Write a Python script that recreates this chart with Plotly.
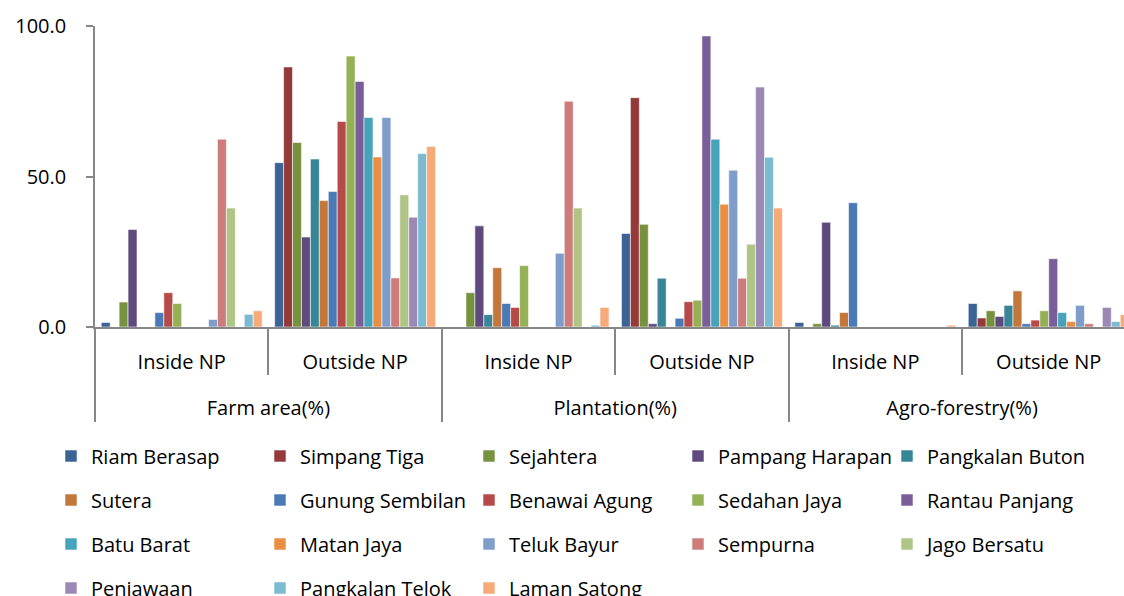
import plotly.graph_objects as go

# Land-use categories (outer level) and location relative to the national park (inner level)
land_use = ["Farm area(%)", "Farm area(%)", "Plantation(%)", "Plantation(%)",
            "Agro-forestry(%)", "Agro-forestry(%)"]
location = ["Inside NP", "Outside NP", "Inside NP", "Outside NP", "Inside NP", "Outside NP"]

villages = ["Riam Berasap", "Simpang Tiga", "Sejahtera", "Pampang Harapan", "Pangkalan Buton",
            "Sutera", "Gunung Sembilan", "Benawai Agung", "Sedahan Jaya", "Rantau Panjang",
            "Batu Barat", "Matan Jaya", "Teluk Bayur", "Sempurna", "Jago Bersatu",
            "Penjawaan", "Pangkalan Telok", "Laman Satong"]

# Percentage per village, one list per land-use / location column
farm_inside = [1.5, 0, 8.3, 32.4, 0, 0, 4.8, 11.4, 7.8, 0, 0, 0, 2.5, 62.4, 39.5, 0, 4.2, 5.4]
farm_outside = [54.6, 86.4, 61.3, 29.9, 55.8, 42.0, 45.0, 68.3, 90.0, 81.6, 69.6, 56.5, 69.6,
                16.3, 43.9, 36.5, 57.6, 60.0]
plant_inside = [0, 0, 11.4, 33.6, 4.1, 19.7, 7.8, 6.5, 20.4, 0, 0, 0, 24.5, 75.0, 39.5, 0, 0.6, 6.5]
plant_outside = [31.1, 76.2, 34.1, 1.1, 16.2, 0, 2.9, 8.4, 8.9, 96.7, 62.4, 40.8, 52.1, 16.2,
                 27.5, 79.7, 56.4, 39.5]
agro_inside = [1.5, 0, 1.1, 34.8, 0.6, 4.8, 41.3, 0, 0, 0, 0, 0, 0, 0, 0, 0, 0, 0.6]
agro_outside = [7.8, 3.0, 5.4, 3.5, 7.2, 12.0, 1.1, 2.3, 5.4, 22.7, 4.8, 1.8, 7.2, 1.1, 0, 6.5,
                1.8, 4.1]

columns = [farm_inside, farm_outside, plant_inside, plant_outside, agro_inside, agro_outside]

colors = ["#3B6494", "#953A3A", "#77923F", "#5F4A7D", "#378597", "#C3773A",
          "#4A7AB5", "#B64A48", "#94B155", "#7A5E99", "#46A3BA", "#E98E43",
          "#7F9DCB", "#CD7C7B", "#AEC585", "#9C88B5", "#7CBACF", "#F7AA78"]

y_ticks = [0, 50, 100]

FONT = "Open Sans"
AXIS_GREY = "#878787"

# The inner tick labels carry an empty second line so the outer level sits lower
location_labels = [f"{loc}<br><span style='font-size:44px'> </span>" for loc in location]

fig = go.Figure()
legend_ids = ["legend", "legend2", "legend3", "legend4"]
for i, name in enumerate(villages):
    fig.add_trace(go.Bar(
        x=[land_use, location_labels],
        y=[col[i] for col in columns],
        name=name,
        marker=dict(color=colors[i], line=dict(color="rgba(255,255,255,0.55)", width=1)),
        legend=legend_ids[i // 5],
        hovertemplate=name + "<br>%{y:.1f}<extra></extra>",
    ))

W, H = 1124, 596
L, R, T, B = 95, 0, 26, 269
plot_w = W - L - R
plot_h = H - T - B


def row_y(px):
    return -(px - (H - B)) / plot_h


legend_common = dict(
    orientation="h", x=-44 / plot_w, xanchor="left", yanchor="middle",
    entrywidth=164, entrywidthmode="pixels",
    font=dict(family=FONT, size=20, color="#000000"),
    bgcolor="rgba(0,0,0,0)", itemclick=False, itemdoubleclick=False,
)

fig.update_layout(
    width=W, height=H,
    margin=dict(l=L, r=R, t=T, b=B, autoexpand=False),
    paper_bgcolor="white", plot_bgcolor="white",
    barmode="group", bargap=0.072, bargroupgap=0,
    font=dict(family=FONT, size=20, color="#000000"),
    legend=dict(y=row_y(456), **legend_common),
    legend2=dict(y=row_y(500), **legend_common),
    legend3=dict(y=row_y(544), **legend_common),
    legend4=dict(y=row_y(588), **legend_common),
    xaxis=dict(
        type="multicategory", range=[-0.5, 5.434], autorange=False,
        showline=True, linecolor=AXIS_GREY, linewidth=1.5,
        ticks="outside", tickson="boundaries", ticklen=46, tickcolor=AXIS_GREY, tickwidth=1.5,
        ticklabelstandoff=16,
        showdividers=True, dividercolor=AXIS_GREY, dividerwidth=1.5,
        tickfont=dict(family=FONT, size=20, color="#000000"),
        showgrid=False, zeroline=False,
    ),
    yaxis=dict(
        range=[0, 100], autorange=False,
        tickvals=y_ticks, tickformat=".1f",
        showline=True, linecolor=AXIS_GREY, linewidth=1.5,
        ticks="outside", ticklen=7, tickcolor=AXIS_GREY, tickwidth=1.5,
        ticklabelstandoff=16,
        tickfont=dict(family=FONT, size=20, color="#000000"),
        showgrid=False, zeroline=False,
    ),
)

fig.write_html("out.html")
